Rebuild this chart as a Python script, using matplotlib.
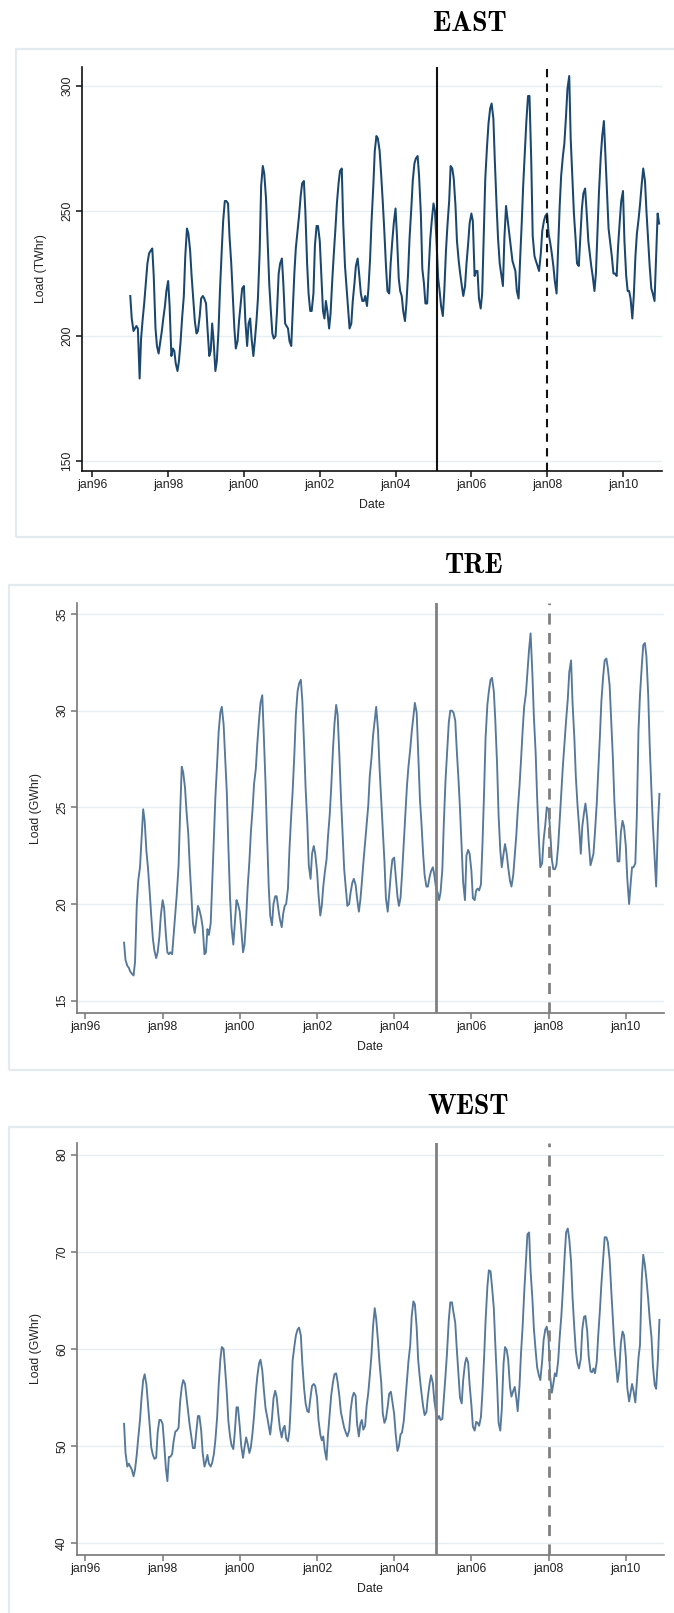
import matplotlib
matplotlib.use("Agg")
import matplotlib.pyplot as plt
import matplotlib.patches as mpatches
import pandas as pd
import numpy as np

# ---------------- data (semi-monthly values) ----------------
east = [216,207,202,203,204,203,183,199,207,213,222,229,233,234,235,224,203,196,193,197,202,207,212,218,
        222,212,192,195,194,189,186,190,198,207,216,232,243,241,234,224,214,206,201,202,208,215,216,215,
        213,203,192,194,205,198,186,190,202,218,234,246,254,254,253,240,229,217,203,195,198,206,213,219,
        220,206,196,205,207,199,192,198,206,215,234,260,268,265,255,240,221,211,201,199,200,210,225,229,
        231,221,205,204,203,198,196,210,225,235,242,248,256,261,262,250,229,217,210,210,217,236,244,244,
        238,225,210,207,214,210,203,209,222,232,243,253,261,266,267,245,228,220,211,203,205,214,221,228,
        231,225,217,214,214,216,212,219,231,246,260,274,280,279,274,265,253,242,228,218,217,229,238,245,
        251,240,223,218,216,210,206,213,225,239,251,262,269,271,272,264,249,227,221,213,213,226,239,246,
        253,250,236,223,218,212,208,218,234,244,254,268,267,263,252,238,230,225,220,216,220,229,237,245,
        249,246,224,226,226,215,211,217,242,263,276,285,291,293,287,270,252,239,229,225,220,239,252,247,
        241,236,230,228,226,218,215,230,245,260,274,286,296,296,270,240,232,230,228,226,233,242,246,248,
        249,241,237,233,228,222,217,234,252,264,272,277,288,299,304,279,262,249,239,229,228,239,251,257,
        259,250,238,233,228,224,218,225,243,258,272,280,286,273,256,243,237,232,225,225,224,236,246,254,
        258,238,224,218,218,215,207,216,232,241,247,253,261,267,262,250,238,228,219,217,214,230,249,245]

tre = [18.0,17.1,16.8,16.7,16.5,16.4,16.3,17.0,19.9,21.2,21.9,23.3,24.9,24.3,22.7,21.9,20.6,19.4,18.2,17.6,17.2,17.5,18.3,19.4,
       20.2,19.8,18.4,17.5,17.4,17.5,17.4,18.4,19.6,20.5,22.0,24.6,27.1,26.8,26.0,24.8,23.6,21.9,20.3,19.0,18.5,19.1,19.9,19.7,
       19.3,18.8,17.4,17.5,18.7,18.4,19.0,21.0,23.4,25.5,27.3,28.9,29.9,30.2,29.3,27.7,25.7,23.0,20.3,18.8,17.9,19.0,20.2,20.0,
       19.6,18.7,17.5,17.9,19.2,20.8,22.2,23.7,24.9,26.2,27.0,28.3,29.5,30.4,30.8,28.8,26.2,23.6,20.9,19.4,18.9,20.0,20.4,20.4,
       19.7,19.2,18.8,19.5,19.9,20.0,20.8,22.8,24.5,25.8,27.8,29.8,31.0,31.4,31.6,30.5,28.2,26.0,24.2,22.0,21.3,22.6,23.0,22.6,
       21.7,20.5,19.4,19.9,20.9,21.6,22.3,23.5,24.6,26.0,28.0,29.3,30.3,29.8,27.6,25.6,23.5,21.8,20.8,19.9,20.0,20.6,21.1,21.3,
       21.0,20.3,19.6,20.2,21.1,22.1,23.2,24.1,25.1,26.6,27.6,28.7,29.5,30.2,29.0,27.1,25.3,23.8,22.2,20.3,19.6,20.5,21.6,22.3,
       22.4,21.5,20.4,19.9,20.3,21.5,23.2,24.6,26.1,27.1,28.0,28.9,29.7,30.4,29.9,27.8,25.4,24.2,22.6,21.5,20.9,20.9,21.4,21.7,
       21.9,21.5,20.8,20.6,20.2,20.6,21.8,24.2,26.4,27.8,29.4,30.0,30.0,29.9,29.5,28.0,26.4,24.9,22.9,21.1,20.2,22.5,22.8,22.6,
       21.7,20.3,20.2,20.7,20.8,20.7,21.0,23.0,25.8,28.6,30.3,31.0,31.6,31.7,31.0,29.5,27.2,24.6,22.8,21.9,22.6,23.1,22.6,21.9,
       21.2,20.9,21.5,22.5,23.5,24.8,26.1,27.4,29.0,30.2,30.9,32.0,33.2,34.0,31.9,29.7,27.8,25.5,23.4,21.9,22.1,23.3,24.1,25.0,
       24.9,23.9,22.3,21.8,21.8,22.0,23.0,24.3,25.8,27.1,28.4,29.5,30.6,32.0,32.6,30.4,28.6,26.6,25.1,24.1,22.6,24.0,24.7,25.2,
       24.4,23.2,22.0,22.3,22.6,23.7,25.2,26.8,28.7,30.5,31.8,32.6,32.7,32.2,31.3,29.6,27.5,25.3,23.6,22.2,22.2,23.7,24.3,24.0,
       23.0,21.3,20.0,21.0,21.9,21.9,22.1,24.5,29.0,30.8,32.3,33.4,33.5,32.8,30.8,28.2,25.8,24.0,22.3,20.9,24.1,25.7]

west = [52.3,49.3,47.9,48.2,47.9,47.6,46.9,47.6,49.1,50.8,52.7,54.9,56.8,57.4,56.3,54.4,52.1,49.9,49.1,48.7,48.8,51.4,52.7,52.7,
        52.3,50.3,47.7,46.4,48.9,48.9,49.2,50.5,51.5,51.6,51.9,54.5,56.1,56.8,56.4,55.0,53.4,52.1,50.9,49.8,49.8,51.4,53.1,53.1,
        51.6,49.3,47.9,48.4,49.1,48.2,47.9,48.3,49.2,50.6,53.0,56.2,58.9,60.2,60.0,58.0,55.4,52.6,51.0,50.1,49.7,51.4,54.0,54.0,
        52.0,50.0,48.8,49.9,50.9,50.3,49.3,49.9,51.4,53.1,55.6,57.2,58.5,58.9,57.8,55.9,53.9,53.1,52.1,51.2,52.9,54.9,55.7,55.1,
        53.2,51.8,50.9,51.8,52.1,50.8,50.5,51.6,55.0,58.8,60.3,61.4,62.0,62.2,61.4,58.5,55.9,54.4,53.6,53.5,55.1,56.2,56.4,56.2,
        55.0,52.7,51.2,50.6,51.0,49.6,48.6,51.2,53.4,55.2,56.6,57.4,57.5,56.6,55.1,53.5,52.6,51.9,51.4,51.0,51.6,53.7,55.0,55.5,
        55.2,52.3,51.0,52.3,52.7,51.7,52.1,54.1,55.5,57.2,59.5,62.3,64.2,63.1,60.8,58.6,56.5,53.4,52.4,52.8,54.1,55.4,55.6,54.6,
        53.3,51.3,49.5,50.0,51.2,51.4,52.6,54.5,56.6,58.7,60.4,63.4,64.9,64.6,62.2,58.9,56.9,55.5,54.1,53.2,53.5,55.1,56.4,57.3,
        56.5,54.7,53.4,52.8,53.1,52.7,52.8,54.9,57.3,59.6,63.0,64.8,64.8,63.8,62.7,60.1,57.3,55.0,54.4,56.8,58.5,59.1,58.6,56.3,
        54.2,52.0,51.6,52.5,52.4,52.1,53.0,55.5,59.1,62.9,66.4,68.1,68.0,66.4,64.2,60.5,56.5,52.4,51.6,53.7,58.5,60.2,59.9,58.9,
        56.1,55.1,55.7,56.1,55.0,53.6,56.2,59.5,62.4,65.7,69.0,71.8,72.0,68.0,65.2,62.1,59.8,58.1,57.3,56.8,58.7,60.9,62.0,62.3,
        61.1,57.3,55.5,56.4,57.5,57.2,58.8,61.2,63.4,66.0,69.5,72.0,72.4,71.3,69.0,65.3,62.1,59.8,58.5,58.0,59.0,62.0,63.3,63.4,
        61.8,59.2,57.7,57.6,58.0,57.5,58.7,61.4,64.0,66.7,69.4,71.5,71.5,71.0,69.2,66.3,63.0,60.3,58.3,56.6,57.9,60.6,61.8,61.4,
        59.2,56.0,54.6,55.5,56.4,55.7,54.5,56.5,59.1,60.4,67.2,69.7,68.6,67.2,65.1,63.1,61.2,58.2,56.3,55.9,59.0,63.0]

start_date = "1997-01-01"
tick_dates = ["1996-01-01", "1998-01-01", "2000-01-01", "2002-01-01",
              "2004-01-01", "2006-01-01", "2008-01-01", "2010-01-01"]
tick_labels = ["jan96", "jan98", "jan00", "jan02", "jan04", "jan06", "jan08", "jan10"]
break_solid = "2005-02-01"
break_dashed = "2008-01-01"

titles = ["EAST", "TRE", "WEST"]
ylabels = ["Load (TWhr)", "Load (GWhr)", "Load (GWhr)"]
yticks = [[150, 200, 250, 300], [15, 20, 25, 30, 35], [40, 50, 60, 70, 80]]

# ---------------- figure ----------------
W, H = 674, 1613
fig = plt.figure(figsize=(W / 100, H / 100), dpi=100)
fig.patch.set_facecolor("white")

TICKFONT = "Liberation Sans"
FS = 8.8


def yr(fy):
    """decimal year -> Timestamp (used only for axis limits)"""
    y = int(np.floor(fy))
    frac = fy - y
    t0 = pd.Timestamp(year=y, month=1, day=1)
    t1 = pd.Timestamp(year=y + 1, month=1, day=1)
    return t0 + (t1 - t0) * frac


panels = [
    dict(vals=east, ax=(81.7, 662, 67, 471), ylim=(146, 307.6), xlim=(1995.72, 2011.03),
         box=(16, 49, 700, 537), title=(470, 24), ylab_x=41, date_y=505,
         color="#1a476f", lw=1.45, axcol="#111111", vcol="#111111", vlw=1.5),
    dict(vals=tre, ax=(76.5, 664, 603, 1013), ylim=(14.36, 35.57), xlim=(1995.77, 2010.99),
         box=(8.6, 585, 700, 1070), title=(473, 566), ylab_x=36, date_y=1047,
         color="#56789a", lw=1.35, axcol="#777777", vcol="#808080", vlw=2.0),
    dict(vals=west, ax=(76.5, 664, 1143, 1555), ylim=(38.8, 81.2), xlim=(1995.77, 2010.99),
         box=(8.6, 1127, 700, 1660), title=(468, 1107), ylab_x=36, date_y=1589,
         color="#56789a", lw=1.35, axcol="#777777", vcol="#808080", vlw=2.0),
]

for i, p in enumerate(panels):
    l, r, t, b = p["ax"]
    # panel frame
    bx0, by0, bx1, by1 = p["box"]
    fig.patches.append(mpatches.Rectangle((bx0 / W, 1 - by1 / H), (bx1 - bx0) / W, (by1 - by0) / H,
                                          transform=fig.transFigure, fill=False,
                                          edgecolor="#e3ebef", lw=1.6, zorder=0))
    ax = fig.add_axes([l / W, 1 - b / H, (r - l) / W, (b - t) / H])
    dates = pd.date_range(start_date, periods=len(p["vals"]), freq="SMS")
    ax.plot(dates, p["vals"], color=p["color"], lw=p["lw"], zorder=3)
    ax.axvline(pd.Timestamp(break_solid), color=p["vcol"], lw=p["vlw"], zorder=4)
    ax.axvline(pd.Timestamp(break_dashed), color=p["vcol"], lw=p["vlw"], ls=(0, (4, 3)), zorder=4)

    ax.set_ylim(*p["ylim"])
    ax.set_xlim(yr(p["xlim"][0]), yr(p["xlim"][1]))
    ax.set_yticks(yticks[i])
    ax.set_yticklabels([str(v) for v in yticks[i]], rotation=90, va="center",
                       fontsize=FS, family=TICKFONT, color="#222222")
    ax.set_xticks(pd.to_datetime(tick_dates))
    ax.set_xticklabels(tick_labels, fontsize=FS, family=TICKFONT, color="#222222")
    ax.grid(axis="y", color="#e6eef1", lw=1.0, zorder=0)
    ax.set_axisbelow(True)
    for s in ["top", "right"]:
        ax.spines[s].set_visible(False)
    for s in ["left", "bottom"]:
        ax.spines[s].set_color(p["axcol"])
        ax.spines[s].set_linewidth(1.2)
    ax.tick_params(axis="both", length=4, width=1.1, color=p["axcol"], pad=2)

    fig.text(p["title"][0] / W, 1 - p["title"][1] / H, titles[i], ha="center", va="center",
             fontsize=20, family="cmb10", color="black")
    fig.text(p["ylab_x"] / W, 1 - ((t + b) / 2) / H, ylabels[i], rotation=90, ha="center",
             va="center", fontsize=FS, family=TICKFONT, color="#222222")
    fig.text(((l + r) / 2) / W, 1 - p["date_y"] / H, "Date", ha="center", va="center",
             fontsize=FS, family=TICKFONT, color="#222222")

fig.savefig("out.png", dpi=100, facecolor="white")
